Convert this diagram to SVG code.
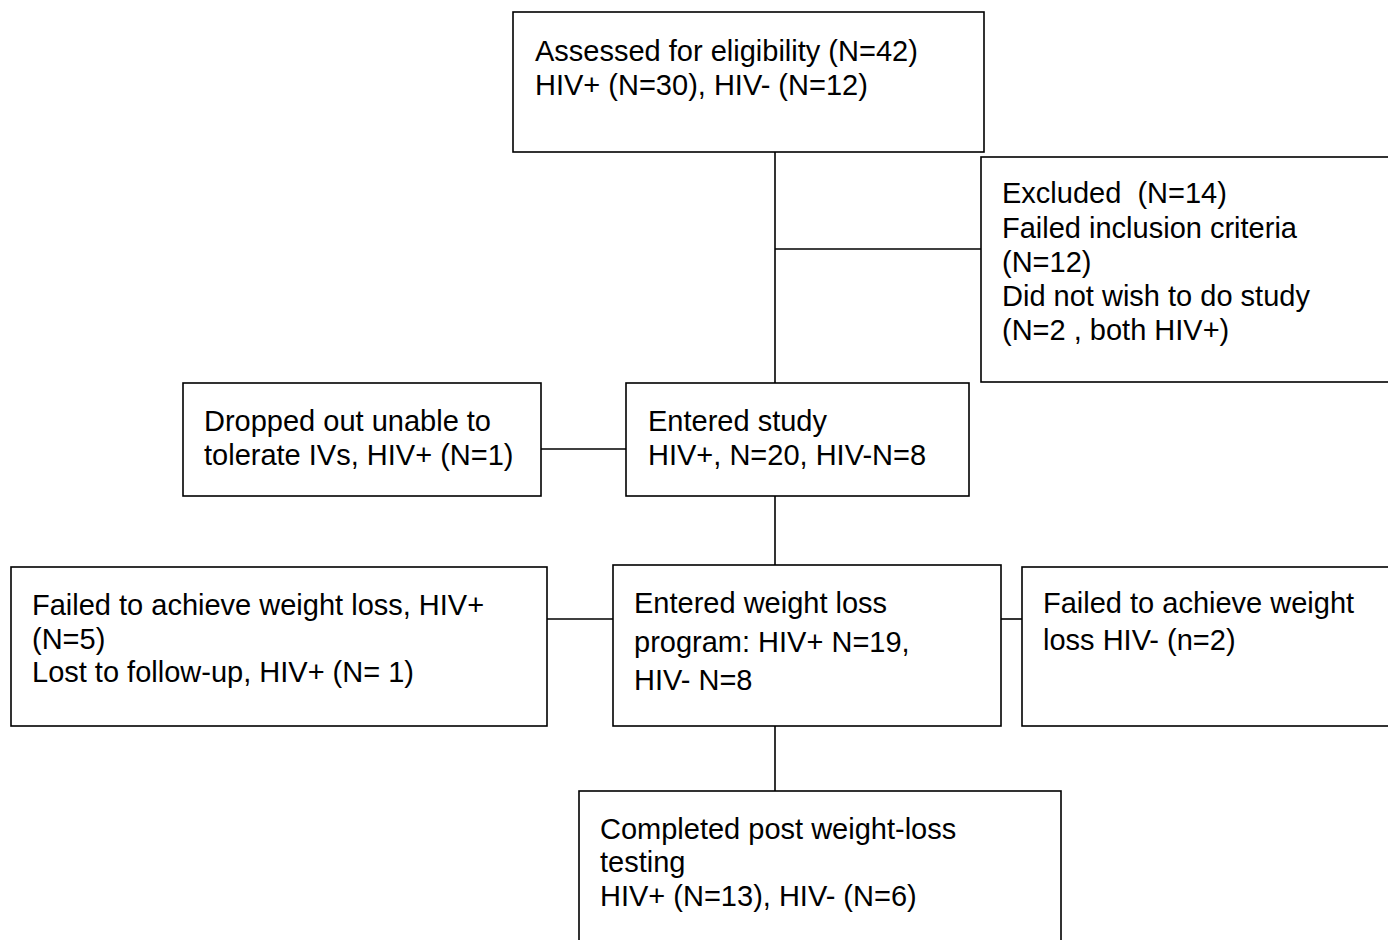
<svg xmlns="http://www.w3.org/2000/svg" width="1388" height="940" viewBox="0 0 1388 940">
<style>
.box{fill:#fff;stroke:#000;stroke-width:1.6}
.ln{stroke:#000;stroke-width:1.6;fill:none}
text{font-family:"Liberation Sans",Arial,sans-serif;font-size:29px;fill:#000;white-space:pre}
</style>
<rect width="1388" height="940" fill="#fff"/>
<g id="connectors">
<line class="ln" x1="775" y1="152" x2="775" y2="383"/>
<line class="ln" x1="775" y1="249" x2="981" y2="249"/>
<line class="ln" x1="541" y1="449" x2="626" y2="449"/>
<line class="ln" x1="775" y1="496" x2="775" y2="566"/>
<line class="ln" x1="547" y1="619" x2="613" y2="619"/>
<line class="ln" x1="1001" y1="619" x2="1022" y2="619"/>
<line class="ln" x1="775" y1="726" x2="775" y2="791"/>
</g>
<g id="assessed">
<rect class="box" x="513" y="12" width="471" height="140"/>
<text x="535" y="60.5">Assessed for eligibility (N=42)</text>
<text x="535" y="94.5">HIV+ (N=30), HIV- (N=12)</text>
</g>
<g id="excluded">
<rect class="box" x="981" y="157" width="420" height="225"/>
<text x="1002" y="203" xml:space="preserve">Excluded  (N=14)</text>
<text x="1002" y="237.5">Failed inclusion criteria</text>
<text x="1002" y="271.5">(N=12)</text>
<text x="1002" y="305.5">Did not wish to do study</text>
<text x="1002" y="339.5">(N=2 , both HIV+)</text>
</g>
<g id="dropped">
<rect class="box" x="183" y="383" width="358" height="113"/>
<text x="204" y="431">Dropped out unable to</text>
<text x="204" y="465">tolerate IVs, HIV+ (N=1)</text>
</g>
<g id="entered">
<rect class="box" x="626" y="383" width="343" height="113"/>
<text x="648" y="431">Entered study</text>
<text x="648" y="465">HIV+, N=20, HIV-N=8</text>
</g>
<g id="failed-hivpos">
<rect class="box" x="11" y="567" width="536" height="159"/>
<text x="32" y="615">Failed to achieve weight loss, HIV+</text>
<text x="32" y="649">(N=5)</text>
<text x="32" y="682">Lost to follow-up, HIV+ (N= 1)</text>
</g>
<g id="weightloss">
<rect class="box" x="613" y="565" width="388" height="161"/>
<text x="634" y="613">Entered weight loss</text>
<text x="634" y="652">program: HIV+ N=19,</text>
<text x="634" y="690">HIV- N=8</text>
</g>
<g id="failed-hivneg">
<rect class="box" x="1022" y="567" width="380" height="159"/>
<text x="1043" y="613">Failed to achieve weight</text>
<text x="1043" y="650">loss HIV- (n=2)</text>
</g>
<g id="completed">
<rect class="box" x="579" y="791" width="482" height="160"/>
<text x="600" y="839">Completed post weight-loss</text>
<text x="600" y="872">testing</text>
<text x="600" y="906">HIV+ (N=13), HIV- (N=6)</text>
</g>
</svg>
